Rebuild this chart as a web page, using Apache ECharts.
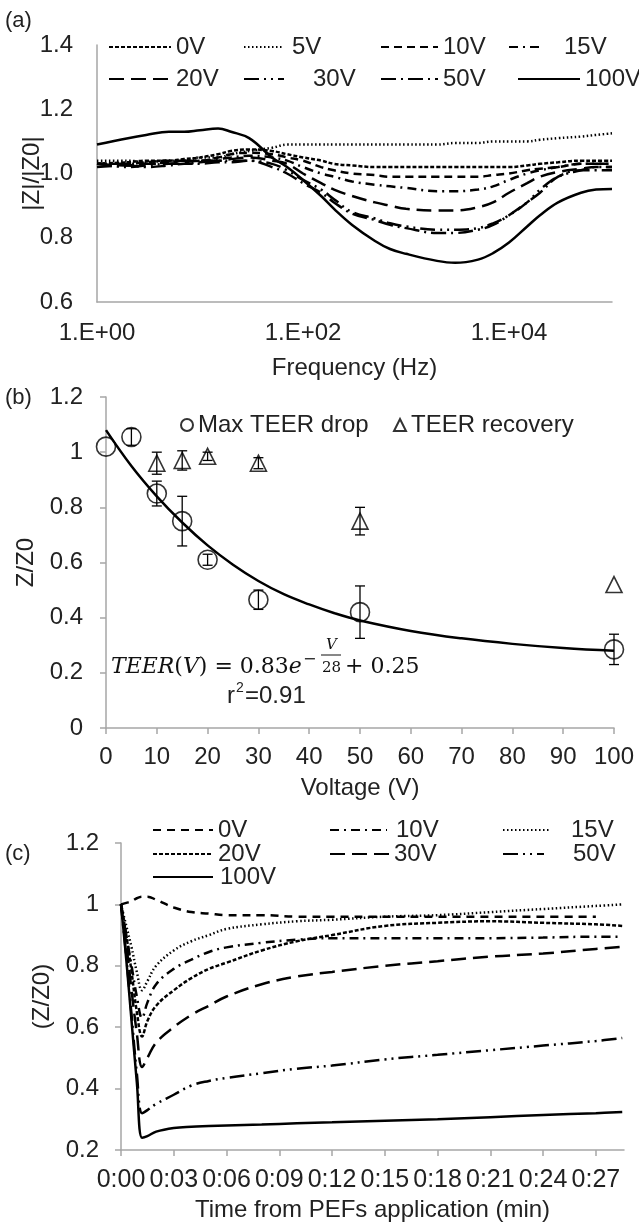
<!DOCTYPE html>
<html>
<head>
<meta charset="utf-8">
<script src="https://cdn.jsdelivr.net/npm/echarts@6/dist/echarts.min.js"></script>
<style>
html,body{margin:0;padding:0;background:#fff}
#chart{width:639px;height:1224px}
</style>
</head>
<body>
<div id="chart"></div>
<script>
// (a) |Z|/|Z0| against frequency, one curve per voltage
var freqA = [1, 2, 3, 5, 7, 10, 15, 20, 30, 50, 70, 100, 150, 200, 300, 500, 700, 1000, 2000, 3000, 5000, 7000, 10000, 15000, 20000, 30000, 50000, 70000, 100000];
var a0V   = [1.03, 1.035, 1.04, 1.04, 1.045, 1.05, 1.06, 1.07, 1.075, 1.07, 1.06, 1.05, 1.04, 1.03, 1.025, 1.02, 1.02, 1.02, 1.02, 1.02, 1.02, 1.02, 1.02, 1.025, 1.03, 1.035, 1.04, 1.04, 1.04];
var a5V   = [1.04, 1.04, 1.035, 1.04, 1.04, 1.05, 1.05, 1.06, 1.07, 1.08, 1.09, 1.09, 1.09, 1.09, 1.09, 1.09, 1.09, 1.09, 1.09, 1.095, 1.095, 1.10, 1.10, 1.10, 1.105, 1.11, 1.115, 1.12, 1.125];
var a10V  = [1.03, 1.03, 1.035, 1.04, 1.04, 1.04, 1.05, 1.06, 1.065, 1.06, 1.05, 1.04, 1.02, 1.01, 1.0, 0.995, 0.99, 0.99, 0.99, 0.99, 0.99, 0.995, 1.0, 1.01, 1.015, 1.02, 1.03, 1.03, 1.03];
var a15V  = [1.03, 1.03, 1.03, 1.035, 1.04, 1.04, 1.045, 1.05, 1.055, 1.05, 1.04, 1.02, 1.0, 0.99, 0.975, 0.965, 0.96, 0.955, 0.945, 0.945, 0.95, 0.96, 0.98, 1.0, 1.01, 1.02, 1.03, 1.03, 1.03];
var a20V  = [1.03, 1.025, 1.03, 1.03, 1.035, 1.04, 1.04, 1.045, 1.05, 1.04, 1.03, 1.0, 0.97, 0.95, 0.93, 0.91, 0.90, 0.89, 0.885, 0.885, 0.895, 0.91, 0.94, 0.97, 0.99, 1.005, 1.015, 1.02, 1.02];
var a30V  = [1.03, 1.02, 1.025, 1.03, 1.03, 1.035, 1.04, 1.04, 1.04, 1.03, 1.01, 0.98, 0.95, 0.92, 0.88, 0.86, 0.845, 0.835, 0.825, 0.825, 0.83, 0.845, 0.87, 0.91, 0.95, 0.99, 1.01, 1.02, 1.02];
var a50V  = [1.02, 1.025, 1.02, 1.025, 1.03, 1.03, 1.035, 1.035, 1.04, 1.02, 1.0, 0.97, 0.94, 0.91, 0.875, 0.855, 0.84, 0.83, 0.815, 0.815, 0.825, 0.84, 0.87, 0.91, 0.94, 0.99, 1.01, 1.01, 1.01];
var a100V = [1.09, 1.11, 1.12, 1.13, 1.13, 1.135, 1.14, 1.13, 1.11, 1.05, 1.02, 0.98, 0.93, 0.89, 0.84, 0.79, 0.765, 0.75, 0.728, 0.722, 0.732, 0.752, 0.785, 0.835, 0.87, 0.91, 0.94, 0.95, 0.952];

// (b) Z/Z0 against voltage
var voltDrop = [0, 5, 10, 15, 20, 30, 50, 100];
var maxDrop  = [1.02, 1.055, 0.85, 0.75, 0.61, 0.465, 0.42, 0.285];
var dropErr  = [0, 0.03, 0.045, 0.09, 0.02, 0.035, 0.095, 0.055];
var voltRec  = [10, 15, 20, 30, 50, 100];
var recovery = [0.96, 0.97, 0.985, 0.96, 0.75, 0.52];
var recErr   = [0.04, 0.035, 0.015, 0.02, 0.05, 0];
var fitVolt  = [0, 5, 10, 15, 20, 25, 30, 35, 40, 45, 50, 60, 70, 80, 90, 100];
var fitTeer  = [1.08, 0.95, 0.84, 0.745, 0.662, 0.592, 0.533, 0.485, 0.448, 0.416, 0.39, 0.352, 0.325, 0.305, 0.29, 0.28];

// (c) Z/Z0 against time after PEFs (min)
var timeC = [0, 0.3, 0.6, 0.9, 1.2, 1.5, 2, 3, 4, 5, 6, 8, 10, 12, 15, 18, 21, 24, 27, 28.5];
var c0V   = [1.0, 1.005, 1.01, 1.02, 1.025, 1.025, 1.015, 0.99, 0.975, 0.97, 0.965, 0.965, 0.96, 0.96, 0.96, 0.96, 0.96, 0.96, 0.96, null];
var c10V  = [1.0, 0.9, 0.8, 0.7, 0.63, 0.68, 0.74, 0.79, 0.82, 0.845, 0.86, 0.875, 0.885, 0.89, 0.89, 0.89, 0.89, 0.892, 0.895, 0.895];
var c15V  = [1.0, 0.93, 0.86, 0.78, 0.72, 0.75, 0.80, 0.85, 0.88, 0.90, 0.92, 0.935, 0.945, 0.95, 0.96, 0.965, 0.975, 0.985, 0.995, 1.0];
var c20V  = [1.0, 0.9, 0.78, 0.65, 0.57, 0.62, 0.67, 0.72, 0.76, 0.79, 0.81, 0.85, 0.88, 0.90, 0.93, 0.94, 0.945, 0.94, 0.935, 0.93];
var c30V  = [1.0, 0.87, 0.72, 0.58, 0.47, 0.50, 0.55, 0.60, 0.64, 0.67, 0.70, 0.74, 0.765, 0.78, 0.80, 0.815, 0.83, 0.84, 0.855, 0.862];
var c50V  = [1.0, 0.83, 0.64, 0.45, 0.32, 0.33, 0.35, 0.38, 0.41, 0.425, 0.435, 0.45, 0.465, 0.475, 0.495, 0.51, 0.525, 0.54, 0.555, 0.565];
var c100V = [1.0, 0.82, 0.62, 0.42, 0.24, 0.245, 0.26, 0.272, 0.276, 0.278, 0.28, 0.283, 0.287, 0.29, 0.295, 0.30, 0.307, 0.314, 0.32, 0.324];
var timeTicks = [0, 3, 6, 9, 12, 15, 18, 21, 24, 27];

var FONT = '"Liberation Sans", Arial, sans-serif';
var SERIF = '"DejaVu Serif", serif';
var TXT = '#222';
var AXC = '#a6a6a6';

function zip(xs, ys){
	var out = [];
	for(var i=0;i<xs.length;i++){ out.push([xs[i], ys[i]]); }
	return out;
}
function errData(xs, ys, es){
	var out = [];
	for(var i=0;i<xs.length;i++){
		if(es[i] > 0){ out.push([xs[i], ys[i]-es[i], ys[i]+es[i]]); }
	}
	return out;
}
function lineSeries(name, gi, xs, ys, dash, width){
	return {
		name: name, type: 'line', xAxisIndex: gi, yAxisIndex: gi,
		data: zip(xs, ys), smooth: 0.4, symbol: 'none', connectNulls: false,
		lineStyle: {color: '#000', width: width || 2.5, type: dash || 'solid'},
		itemStyle: {color: '#000'}
	};
}
// one legend per item so the columns line up like the original
function legendItem(name, left, top, w, gap){
	return {
		data: [name], left: left, top: top, orient: 'horizontal',
		itemWidth: w, itemHeight: 14, padding: 0, selectedMode: false,
		itemStyle: {opacity: 0},
		textStyle: {fontSize: 24, color: TXT, fontFamily: FONT, padding: [0, 0, 0, gap || 0]},
		formatter: function(n){ return n.replace(/^[ac] /, ''); }
	};
}
function errRender(params, api){
	var x = api.value(0);
	var lo = api.coord([x, api.value(1)]);
	var hi = api.coord([x, api.value(2)]);
	var st = {stroke: '#000', lineWidth: 1.3};
	return {type: 'group', children: [
		{type: 'line', shape: {x1: lo[0], y1: lo[1], x2: hi[0], y2: hi[1]}, style: st},
		{type: 'line', shape: {x1: lo[0]-5, y1: lo[1], x2: lo[0]+5, y2: lo[1]}, style: st},
		{type: 'line', shape: {x1: hi[0]-5, y1: hi[1], x2: hi[0]+5, y2: hi[1]}, style: st}
	]};
}

var dashA = {
	'0V': [4, 2], '5V': [1.5, 2.5], '10V': [8, 5], '15V': [9, 5, 2, 5],
	'20V': [15, 7], '30V': [15, 5, 2, 5, 2, 5], '50V': [15, 5, 2, 5], '100V': 'solid'
};
var dashC = {
	'0V': [8, 6], '10V': [9, 5, 2, 5], '15V': [1.5, 2.5], '20V': [4, 2],
	'30V': [15, 7], '50V': [15, 5, 2, 5, 2, 5], '100V': 'solid'
};

var axisLine = {show: true, lineStyle: {color: AXC, width: 1.5}};
var labelStyle = {color: TXT, fontSize: 24, fontFamily: FONT};
var nameStyle = {color: TXT, fontSize: 24, fontFamily: FONT};

var option = {
	animation: false,
	backgroundColor: '#fff',
	grid: [
		{left: 97, top: 45, width: 515, height: 257},
		{left: 106, top: 397, width: 508, height: 331},
		{left: 121, top: 843, width: 503, height: 307}
	],
	xAxis: [
		{
			gridIndex: 0, type: 'log', logBase: 10, min: 1, max: 100000,
			axisLine: axisLine, axisTick: {show: false}, splitLine: {show: false},
			axisLabel: Object.assign({margin: 19, formatter: function(v){
				var e = Math.round(Math.log(v)/Math.LN10);
				if(e % 2 !== 0 || e > 4){ return ''; }
				return '1.E+' + (e < 10 ? '0' : '') + e;
			}}, labelStyle),
			name: 'Frequency (Hz)', nameLocation: 'middle', nameGap: 54, nameTextStyle: nameStyle
		},
		{
			gridIndex: 1, type: 'value', min: 0, max: 100, interval: 10,
			axisLine: axisLine, axisTick: {show: true, length: 6, lineStyle: {color: AXC, width: 1.5}},
			splitLine: {show: false},
			axisLabel: Object.assign({margin: 17}, labelStyle),
			name: 'Voltage (V)', nameLocation: 'middle', nameGap: 48, nameTextStyle: nameStyle
		},
		{
			gridIndex: 2, type: 'value', min: 0, max: 28.6,
			axisLine: axisLine,
			axisTick: {show: true, length: 6, lineStyle: {color: AXC, width: 1.5}, customValues: timeTicks},
			splitLine: {show: false},
			axisLabel: {margin: 18, customValues: timeTicks, color: TXT, fontSize: 25, fontFamily: FONT, formatter: function(v){
				return '0:' + (v < 10 ? '0' : '') + v;
			}},
			name: 'Time from PEFs application (min)', nameLocation: 'middle', nameGap: 48, nameTextStyle: nameStyle
		}
	],
	yAxis: [
		{
			gridIndex: 0, type: 'value', min: 0.6, max: 1.4, interval: 0.2,
			axisLine: axisLine, axisTick: {show: false}, splitLine: {show: false},
			axisLabel: Object.assign({margin: 24, formatter: function(v){ return v.toFixed(1); }}, labelStyle),
			name: '|Z|/|Z0|', nameLocation: 'middle', nameGap: 53, nameMoveOverlap: false, nameTextStyle: nameStyle
		},
		{
			gridIndex: 1, type: 'value', min: 0, max: 1.2, interval: 0.2,
			axisLine: axisLine, axisTick: {show: true, length: 6, lineStyle: {color: AXC, width: 1.5}},
			splitLine: {show: false},
			axisLabel: Object.assign({margin: 23}, labelStyle),
			name: 'Z/Z0', nameLocation: 'middle', nameGap: 64, nameTextStyle: nameStyle
		},
		{
			gridIndex: 2, type: 'value', min: 0.2, max: 1.2, interval: 0.2,
			axisLine: axisLine, axisTick: {show: true, length: 6, lineStyle: {color: AXC, width: 1.5}},
			splitLine: {show: false},
			axisLabel: Object.assign({margin: 22}, labelStyle),
			name: '(Z/Z0)', nameLocation: 'middle', nameGap: 64, nameTextStyle: nameStyle
		}
	],
	legend: [
		legendItem('a 0V', 108, 35, 62, 0),
		legendItem('a 5V', 243, 35, 40, 3),
		legendItem('a 10V', 380, 35, 57, 0),
		legendItem('a 15V', 508, 35, 30, 20),
		legendItem('a 20V', 108, 67, 62, 0),
		legendItem('a 30V', 243, 67, 40, 24),
		legendItem('a 50V', 380, 67, 57, 0),
		legendItem('a 100V', 517, 67, 62, 0),
		{
			data: [{name: 'Max TEER drop', icon: 'circle'}], left: 180, top: 413, itemWidth: 12, itemHeight: 12,
			padding: 0, selectedMode: false, textStyle: {fontSize: 24, color: TXT, fontFamily: FONT}
		},
		{
			data: [{name: 'TEER recovery', icon: 'triangle'}], left: 393, top: 413, itemWidth: 12, itemHeight: 12,
			padding: 0, selectedMode: false, textStyle: {fontSize: 24, color: TXT, fontFamily: FONT}
		},
		legendItem('c 0V', 152, 818, 60, 0),
		legendItem('c 10V', 329, 818, 57, 4),
		legendItem('c 15V', 502, 818, 47, 16),
		legendItem('c 20V', 152, 842, 60, 0),
		legendItem('c 30V', 329, 842, 59, 0),
		legendItem('c 50V', 502, 842, 41, 24),
		legendItem('c 100V', 152, 865, 60, 2)
	],
	graphic: [
		{type: 'text', left: 5, top: 10, style: {text: '(a)', fontSize: 22, fill: TXT, fontFamily: FONT}},
		{type: 'text', left: 5, top: 387, style: {text: '(b)', fontSize: 22, fill: TXT, fontFamily: FONT}},
		{type: 'text', left: 5, top: 843, style: {text: '(c)', fontSize: 22, fill: TXT, fontFamily: FONT}},
		// fitted equation
		{type: 'text', x: 111, y: 667, style: {
			text: '{i|TEER}({i|V}) = 0.83{i|e}', fontSize: 22, fill: '#111', fontFamily: SERIF, verticalAlign: 'middle',
			rich: {i: {fontStyle: 'italic', fontSize: 22, fontFamily: SERIF, fill: '#111'}}
		}},
		{type: 'text', x: 303, y: 660, style: {text: '\u2212', fontSize: 16, fill: '#111', fontFamily: SERIF, verticalAlign: 'middle'}},
		{type: 'text', x: 326, y: 645, style: {text: 'V', fontSize: 15, fontStyle: 'italic', fill: '#111', fontFamily: SERIF, verticalAlign: 'middle'}},
		{type: 'line', shape: {x1: 321, y1: 655, x2: 341, y2: 655}, style: {stroke: '#111', lineWidth: 1}},
		{type: 'text', x: 322, y: 668, style: {text: '28', fontSize: 15, fill: '#111', fontFamily: SERIF, verticalAlign: 'middle'}},
		{type: 'text', x: 345, y: 667, style: {text: '+ 0.25', fontSize: 22, fill: '#111', fontFamily: SERIF, verticalAlign: 'middle'}},
		{type: 'text', x: 227, y: 696, style: {text: 'r', fontSize: 24, fill: TXT, fontFamily: FONT, verticalAlign: 'middle'}},
		{type: 'text', x: 236, y: 688, style: {text: '2', fontSize: 14, fill: TXT, fontFamily: FONT, verticalAlign: 'middle'}},
		{type: 'text', x: 245, y: 696, style: {text: '=0.91', fontSize: 24, fill: TXT, fontFamily: FONT, verticalAlign: 'middle'}}
	],
	series: [
		lineSeries('a 0V', 0, freqA, a0V, dashA['0V']),
		lineSeries('a 5V', 0, freqA, a5V, dashA['5V']),
		lineSeries('a 10V', 0, freqA, a10V, dashA['10V']),
		lineSeries('a 15V', 0, freqA, a15V, dashA['15V']),
		lineSeries('a 20V', 0, freqA, a20V, dashA['20V']),
		lineSeries('a 30V', 0, freqA, a30V, dashA['30V']),
		lineSeries('a 50V', 0, freqA, a50V, dashA['50V']),
		lineSeries('a 100V', 0, freqA, a100V, dashA['100V']),

		lineSeries('fit', 1, fitVolt, fitTeer, 'solid', 2.5),
		{
			name: 'dropErr', type: 'custom', xAxisIndex: 1, yAxisIndex: 1,
			renderItem: errRender, data: errData(voltDrop, maxDrop, dropErr), z: 3
		},
		{
			name: 'recErr', type: 'custom', xAxisIndex: 1, yAxisIndex: 1,
			renderItem: errRender, data: errData(voltRec, recovery, recErr), z: 3
		},
		{
			name: 'Max TEER drop', type: 'scatter', xAxisIndex: 1, yAxisIndex: 1,
			data: zip(voltDrop, maxDrop), symbol: 'circle', symbolSize: 19, z: 4,
			itemStyle: {color: 'rgba(255,255,255,0)', borderColor: '#000', borderWidth: 1.6}
		},
		{
			name: 'TEER recovery', type: 'scatter', xAxisIndex: 1, yAxisIndex: 1,
			data: zip(voltRec, recovery), symbol: 'triangle', symbolSize: [16, 16], z: 4,
			itemStyle: {color: 'rgba(255,255,255,0)', borderColor: '#000', borderWidth: 1.6}
		},

		lineSeries('c 0V', 2, timeC, c0V, dashC['0V']),
		lineSeries('c 10V', 2, timeC, c10V, dashC['10V']),
		lineSeries('c 15V', 2, timeC, c15V, dashC['15V']),
		lineSeries('c 20V', 2, timeC, c20V, dashC['20V']),
		lineSeries('c 30V', 2, timeC, c30V, dashC['30V']),
		lineSeries('c 50V', 2, timeC, c50V, dashC['50V']),
		lineSeries('c 100V', 2, timeC, c100V, dashC['100V'])
	]
};

var chart = echarts.init(document.getElementById('chart'));
chart.setOption(option);
</script>
</body>
</html>
